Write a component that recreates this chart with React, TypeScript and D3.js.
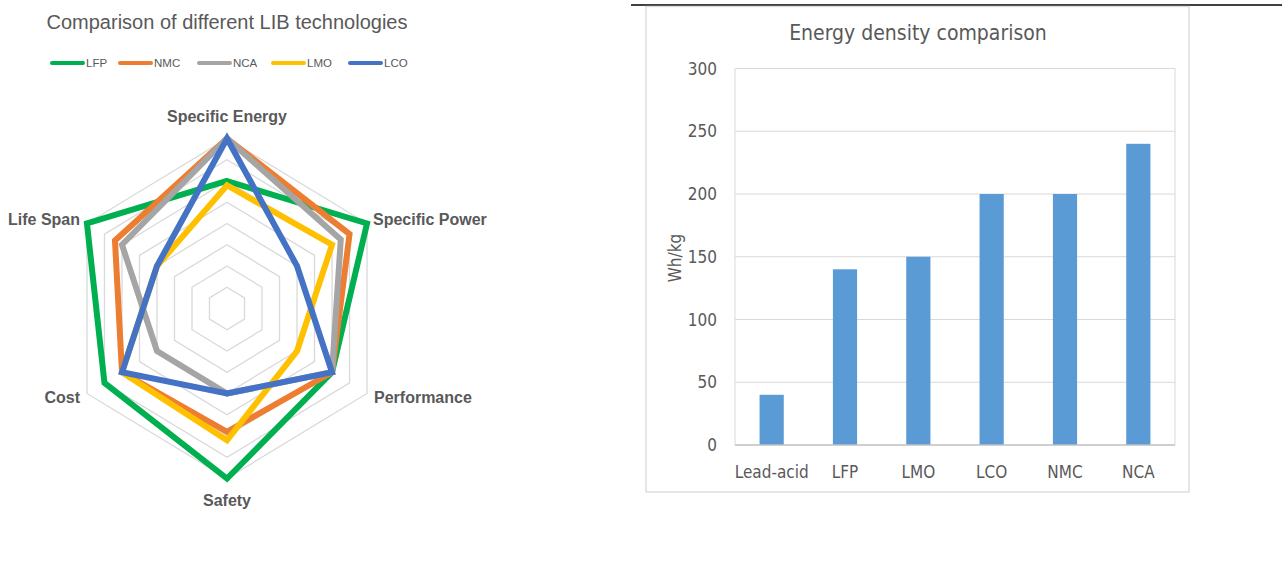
import React from "react";
import * as d3 from "d3";

const axesLabels = ["Specific Energy", "Specific Power", "Performance", "Safety", "Cost", "Life Span"];
const seriesNames = ["LFP", "NMC", "NCA", "LMO", "LCO"];
const seriesColors = ["#00B050", "#ED7D31", "#A5A5A5", "#FFC000", "#4472C4"];
const lfpValues = [6, 8, 6, 8, 7, 8];
const nmcValues = [8, 7, 6, 5.8, 6, 6.4];
const ncaValues = [8, 6.5, 6, 4, 4, 6];
const lmoValues = [5.8, 6, 4, 6.2, 6, 4];
const lcoValues = [8, 4, 6, 4, 6, 4];
const radarSeries = [lfpValues, nmcValues, ncaValues, lmoValues, lcoValues];
const radarRings = [1, 2, 3, 4, 5, 6, 7, 8];

const barCategories = ["Lead-acid", "LFP", "LMO", "LCO", "NMC", "NCA"];
const barValues = [40, 140, 150, 200, 200, 240];
const barTicks = [0, 50, 100, 150, 200, 250, 300];

const LEFT_FONT = "'Liberation Sans', Arial, sans-serif";
const RIGHT_FONT = "'Liberation Sans Narrow', 'DejaVu Sans Condensed', 'Liberation Sans', sans-serif";

export default function App() {
  // radar geometry
  const cx = 227, cy = 308.5, Rx = 161.7, Ry = 170;
  const r = d3.scaleLinear().domain([0, 8]).range([0, 1]);
  const ang = d3.scaleLinear().domain([0, axesLabels.length]).range([0, 2 * Math.PI]);
  const pt = (v: number, i: number): [number, number] => [
    cx + Rx * r(v) * Math.sin(ang(i)),
    cy - Ry * r(v) * Math.cos(ang(i)),
  ];
  const line = d3.line<[number, number]>().curve(d3.curveLinearClosed);
  const ringPath = (v: number) => line(axesLabels.map((_, i) => pt(v, i))) as string;

  const labelPos = [
    { x: 227, y: 122, anchor: "middle" },
    { x: 373, y: 225, anchor: "start" },
    { x: 374, y: 403, anchor: "start" },
    { x: 227, y: 506, anchor: "middle" },
    { x: 80, y: 403, anchor: "end" },
    { x: 80, y: 225, anchor: "end" },
  ];
  const legendX = [50, 118, 197, 271, 348];

  // bar chart geometry
  const x = d3.scaleBand().domain(barCategories).range([735, 1175]).paddingInner(0.67).paddingOuter(0.335);
  const y = d3.scaleLinear().domain([0, 300]).range([445, 68.5]);

  return (
    <svg width={1282} height={561} style={{ position: "absolute", left: 0, top: 0, background: "#fff" }}>
      {/* Left radar chart */}
      <text x={227} y={29} textAnchor="middle" fontFamily={LEFT_FONT} fontSize={20} fill="#595959">
        Comparison of different LIB technologies
      </text>
      {seriesNames.map((n, i) => (
        <g key={n}>
          <line x1={legendX[i] + 2} x2={legendX[i] + 33} y1={63} y2={63} stroke={seriesColors[i]} strokeWidth={4} strokeLinecap="round" />
          <text x={legendX[i] + 36} y={67} fontFamily={LEFT_FONT} fontSize={11.5} fill="#595959">{n}</text>
        </g>
      ))}
      {radarRings.map((v) => (
        <path key={v} d={ringPath(v)} fill="none" stroke="#d9d9d9" strokeWidth={1.3} />
      ))}
      {radarSeries.map((vals, si) => (
        <path
          key={si}
          d={line(vals.map((v, i) => pt(v, i))) as string}
          fill="none"
          stroke={seriesColors[si]}
          strokeWidth={6}
          strokeLinejoin="miter"
        />
      ))}
      {axesLabels.map((l, i) => (
        <text key={l} x={labelPos[i].x} y={labelPos[i].y} textAnchor={labelPos[i].anchor as any}
          fontFamily={LEFT_FONT} fontWeight="bold" fontSize={16} fill="#595959">{l}</text>
      ))}

      {/* Right bar chart */}
      <line x1={631} x2={1282} y1={5} y2={5} stroke="#000" strokeWidth={1.5} />
      <rect x={646} y={6.5} width={543} height={485.5} fill="none" stroke="#d9d9d9" strokeWidth={1.3} />
      <text x={918} y={40} textAnchor="middle" fontFamily={RIGHT_FONT} fontSize={21} fill="#595959">
        Energy density comparison
      </text>
      {barTicks.map((t) => (
        <g key={t}>
          {t > 0 && <line x1={735} x2={1175} y1={y(t)} y2={y(t)} stroke="#d9d9d9" strokeWidth={1} />}
          <text x={717} y={y(t) + 6} textAnchor="end" fontFamily={RIGHT_FONT} fontSize={17} fill="#595959">{t}</text>
        </g>
      ))}
      <line x1={1175} x2={1175} y1={y(300)} y2={y(0)} stroke="#d9d9d9" strokeWidth={1} />
      <line x1={735} x2={735} y1={y(300)} y2={y(0)} stroke="#d9d9d9" strokeWidth={1} />
      {barCategories.map((c, i) => (
        <rect key={c} x={x(c)} y={y(barValues[i])} width={x.bandwidth()} height={y(0) - y(barValues[i])} fill="#5B9BD5" />
      ))}
      <line x1={735} x2={1175} y1={y(0)} y2={y(0)} stroke="#bfbfbf" strokeWidth={1.5} />
      {barCategories.map((c) => (
        <text key={c} x={(x(c) as number) + x.bandwidth() / 2} y={478} textAnchor="middle" fontFamily={RIGHT_FONT} fontSize={17} fill="#595959">{c}</text>
      ))}
      <text transform={`translate(681,258) rotate(-90)`} textAnchor="middle" fontFamily={RIGHT_FONT} fontSize={17} fill="#595959">Wh/kg</text>
    </svg>
  );
}
